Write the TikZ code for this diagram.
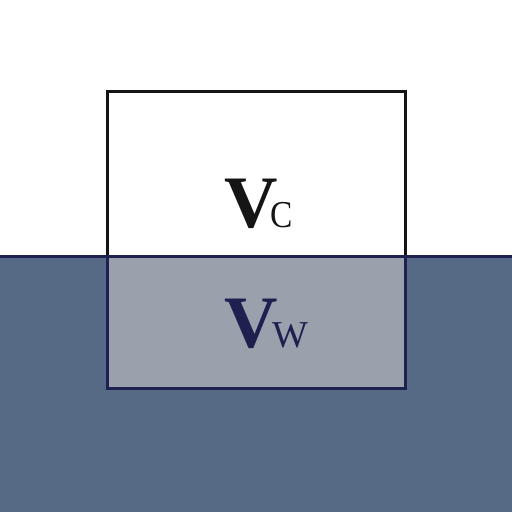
\documentclass[tikz,border=0pt]{standalone}
\usepackage{fontspec}
\setmainfont{Liberation Serif}
\definecolor{water}{HTML}{566A85}
\definecolor{sub}{HTML}{9AA1AD}
\definecolor{navy}{HTML}{1E2150}
\definecolor{ink}{HTML}{151515}
\newcommand{\bigV}{{\fontsize{74}{74}\selectfont\bfseries V}}
\tikzset{
  lbl/.style={anchor=base west, inner sep=0pt, outer sep=0pt},
  edge/.style={line width=3pt}
}
\begin{document}
\begin{tikzpicture}[x=1pt,y=1pt]
\useasboundingbox (0,0) rectangle (512,512);
\fill[white] (0,0) rectangle (512,512);
% water
\fill[water] (0,0) rectangle (512,255);
% submerged part
\fill[sub] (107,123) rectangle (405,255);
% box above water
\draw[edge, ink] (107,255) -- (107,420) -- (405,420) -- (405,255);
% submerged box edges
\draw[edge, navy] (107,255) -- (107,123) -- (405,123) -- (405,255);
% waterline
\draw[edge, navy] (0,255) -- (512,255);
% labels
\node[lbl, text=ink] (vc) at (224,284) {\bigV\kern-7pt\fontsize{38}{38}\selectfont\scalebox{0.88}[1]{C}};
\node[lbl, text=navy] (vw) at (224,164) {\bigV\kern-5pt\fontsize{38}{38}\selectfont W};
\end{tikzpicture}
\end{document}
